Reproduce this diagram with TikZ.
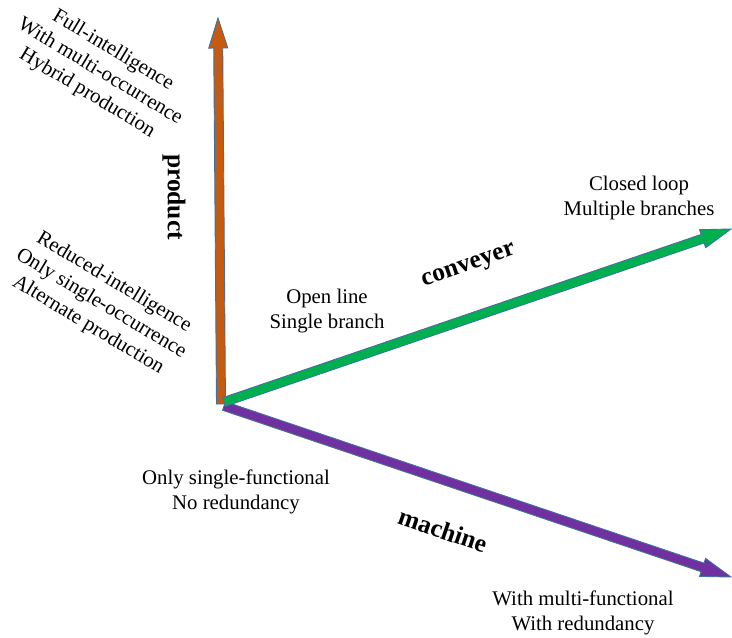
\documentclass[tikz,border=0pt]{standalone}
\usepackage{fontspec}
\setmainfont{Liberation Serif}
\usetikzlibrary{calc}
\definecolor{prodorange}{HTML}{C55A11}
\definecolor{convgreen}{HTML}{00B050}
\definecolor{machpurple}{HTML}{7030A0}
\definecolor{edgeblue}{HTML}{41719C}

\begin{document}
\begin{tikzpicture}[x=1pt, y=-1pt,
    note/.style={align=center, font=\fontsize{20.8}{25}\selectfont},
    axis label/.style={font=\fontsize{25.5}{28}\selectfont\bfseries},
    block arrow/.style={draw=edgeblue, line width=0.9pt, line join=miter}]
    \useasboundingbox (0,0) rectangle (732,638);

    \coordinate (O) at (221,404);
    \coordinate (OC) at (224,402);
    \coordinate (OM) at (224,406);
    \coordinate (P) at (218,18);
    \coordinate (C) at (731,229);
    \coordinate (M) at (731,577);

    % block arrows: base/tip/colour
    \foreach \base/\tip/\col in {O/P/prodorange, OM/M/machpurple, OC/C/convgreen} {
        \coordinate (H) at ($(\tip)!30pt!(\base)$);
        \filldraw[block arrow, fill=\col] ($(\base)!4.5pt!90:(\tip)$) -- ($(H)!4.5pt!-90:(\base)$) -- ($(H)!9.5pt!-90:(\base)$) -- (\tip) -- ($(H)!9.5pt!90:(\base)$) -- ($(H)!4.5pt!90:(\base)$) -- ($(\base)!4.5pt!-90:(\tip)$) -- cycle;
    }

    \node[note, rotate=-31] (smart) at (100,72) {Full-intelligence\\With multi-occurrence\\Hybrid production};
    \node[note, rotate=-31] (plain) at (101,304) {Reduced-intelligence\\Only single-occurrence\\Alternate production};
    \node[axis label, rotate=-90] (product) at (174,197) {product};
    \node[axis label, rotate=19] (conveyer) at (469,267) {conveyer};
    \node[axis label, rotate=-19] (machine) at (443,530) {machine};

    \node[note] (open) at (327,311) {Open line\\Single branch};
    \node[note] (closed) at (639,198) {Closed loop\\Multiple branches};
    \node[note] (single) at (236,492) {Only single-functional\\No redundancy};
    \node[note] (multi) at (583,613) {With multi-functional\\With redundancy};
\end{tikzpicture}
\end{document}
